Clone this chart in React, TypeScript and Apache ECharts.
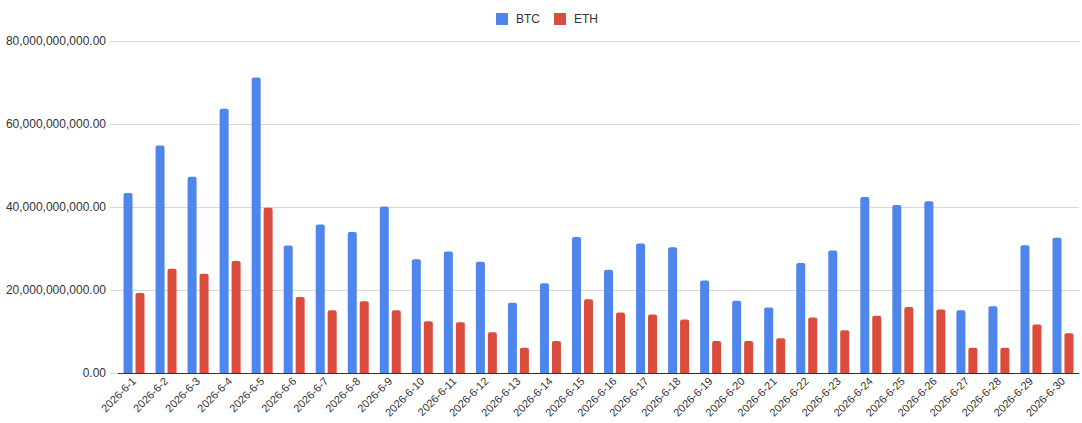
import React, { useEffect, useRef } from "react";
import * as echarts from "echarts";

const categories = [
  "2026-6-1", "2026-6-2", "2026-6-3", "2026-6-4", "2026-6-5", "2026-6-6", "2026-6-7", "2026-6-8", "2026-6-9", "2026-6-10",
  "2026-6-11", "2026-6-12", "2026-6-13", "2026-6-14", "2026-6-15", "2026-6-16", "2026-6-17", "2026-6-18", "2026-6-19", "2026-6-20",
  "2026-6-21", "2026-6-22", "2026-6-23", "2026-6-24", "2026-6-25", "2026-6-26", "2026-6-27", "2026-6-28", "2026-6-29", "2026-6-30",
];

const btcValues = [
  43.4e9, 54.8e9, 47.3e9, 63.7e9, 71.2e9, 30.7e9, 35.8e9, 34.0e9, 40.1e9, 27.4e9,
  29.3e9, 26.8e9, 16.9e9, 21.6e9, 32.8e9, 24.9e9, 31.2e9, 30.3e9, 22.3e9, 17.4e9,
  15.8e9, 26.5e9, 29.5e9, 42.4e9, 40.5e9, 41.4e9, 15.1e9, 16.1e9, 30.8e9, 32.6e9,
];

const ethValues = [
  19.3e9, 25.1e9, 23.9e9, 27.0e9, 39.8e9, 18.3e9, 15.1e9, 17.3e9, 15.1e9, 12.5e9,
  12.2e9, 9.8e9, 6.1e9, 7.7e9, 17.8e9, 14.6e9, 14.1e9, 12.9e9, 7.7e9, 7.7e9,
  8.4e9, 13.4e9, 10.3e9, 13.8e9, 15.9e9, 15.3e9, 6.1e9, 6.1e9, 11.7e9, 9.6e9,
];

const yTicks = { min: 0, max: 80e9, interval: 20e9 };

const fmt = new Intl.NumberFormat("en-US", { minimumFractionDigits: 2, maximumFractionDigits: 2 });

const FONT = "'Liberation Sans', Arial, Helvetica, sans-serif";

export default function App() {
  const ref = useRef<HTMLDivElement>(null);

  useEffect(() => {
    document.body.style.margin = "0";
    if (!ref.current) return;
    const chart = echarts.init(ref.current, undefined, { renderer: "svg" });
    chart.setOption({
      animation: false,
      backgroundColor: "#ffffff",
      textStyle: { fontFamily: FONT },
      legend: {
        top: 8,
        left: 491,
        itemWidth: 12,
        itemHeight: 12,
        itemGap: 14,
        icon: "rect",
        textStyle: { color: "#333333", fontSize: 12, fontFamily: FONT, padding: [0, 0, 0, 3] },
        data: ["BTC", "ETH"],
      },
      grid: { left: 118, right: 3, top: 41, bottom: 50, containLabel: false },
      xAxis: {
        type: "category",
        data: categories,
        boundaryGap: true,
        axisLine: { show: true, lineStyle: { color: "#333333", width: 1 } },
        axisTick: { show: false },
        axisLabel: {
          rotate: 45,
          interval: 0,
          margin: 6,
          color: "#333333",
          fontSize: 11,
          fontFamily: FONT,
        },
      },
      yAxis: {
        type: "value",
        min: yTicks.min,
        max: yTicks.max,
        interval: yTicks.interval,
        axisLine: { show: false },
        axisTick: { show: true, length: 8, lineStyle: { color: "#d9d9d9" } },
        splitLine: { show: true, lineStyle: { color: "#d9d9d9", width: 1 } },
        axisLabel: {
          margin: 12,
          color: "#333333",
          fontSize: 12,
          fontFamily: FONT,
          formatter: (v: number) => fmt.format(v),
        },
      },
      series: [
        {
          name: "BTC",
          type: "bar",
          data: btcValues,
          barWidth: 9,
          barGap: "33%",
          itemStyle: { color: "#4f86ec", borderRadius: [2, 2, 0, 0] },
        },
        {
          name: "ETH",
          type: "bar",
          data: ethValues,
          barWidth: 9,
          barGap: "33%",
          itemStyle: { color: "#db4c3f", borderRadius: [2, 2, 0, 0] },
        },
      ],
    });
    return () => chart.dispose();
  }, []);

  return <div ref={ref} style={{ width: 1082, height: 423 }} />;
}
